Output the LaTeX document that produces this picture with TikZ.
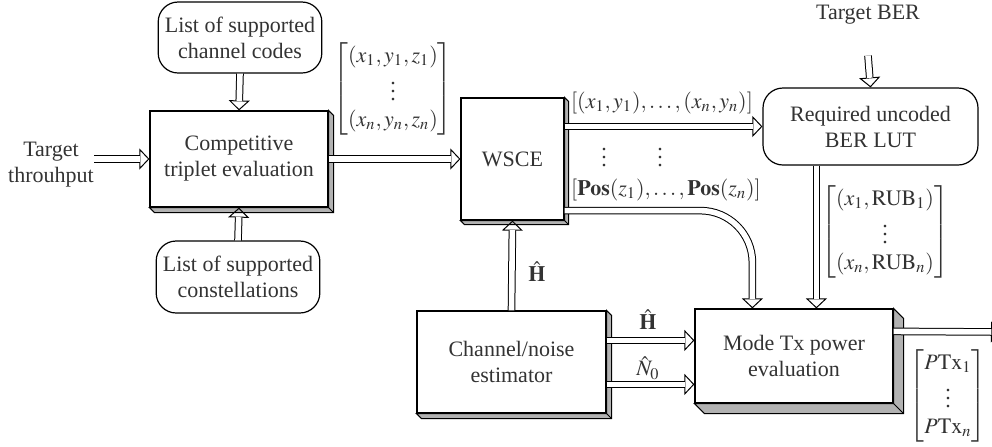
\documentclass[tikz,border=0pt]{standalone}
\usepackage{amsmath}
\usepackage{mathptmx}
\usepackage{fontspec}
\setmainfont{Liberation Serif}
\usepackage{tikz}
\usetikzlibrary{arrows.meta, calc, positioning}
\newcommand{\slab}[2]{%
  \filldraw[fill=gray!60, line width=0.5pt] (#1.north east) -- ++(#2,-#2) -- ($(#1.south east)+(#2,-#2)$) -- ($(#1.south west)+(#2,-#2)$) -- (#1.south west) -- (#1.south east) -- cycle;
  \draw[line width=0.5pt] (#1.south east) -- ++(#2,-#2);
}

\begin{document}
\begin{tikzpicture}[x=0.5pt, y=-0.5pt, font=\fontsize{11}{13}\selectfont, text=black!80,
    rbox/.style={draw, rounded corners=10pt, align=center, line width=0.6pt, fill=white},
    sbox/.style={draw, align=center, line width=0.6pt, fill=white},
    dbl/.style={line width=3.8pt, -{Triangle[open, length=5pt, width=10.5pt, line width=0.5pt]},
      postaction={draw=white, line width=2.8pt, -, shorten >=4.8pt}}]
    \useasboundingbox (0,0) rectangle (992,446);

    % Inputs
    \node[rbox, minimum width=81pt, minimum height=35.5pt] (codes) at (240,37.5) {List of supported\\channel codes};
    \node[rbox, minimum width=79pt, minimum height=36pt] (consts) at (238,277) {List of supported\\constellations};
    \node[align=center, inner sep=0pt] (tgt) at (51,165) {Target\\throuhput};
    \node (ber) at (868,15) {Target BER};

    % Blocks
    \node[sbox, minimum width=89pt, minimum height=48pt] (comp) at (239,159) {Competitive\\triplet evaluation};
    \node[sbox, minimum width=51.5pt, minimum height=61pt] (wsce) at (512.5,159) {WSCE};
    \node[rbox, minimum width=107.5pt, minimum height=38.5pt] (lut) at (870.5,126.5) {Required uncoded\\BER LUT};
    \node[sbox, minimum width=94.5pt, minimum height=51pt] (est) at (511.5,362) {Channel/noise\\estimator};
    \node[sbox, minimum width=99pt, minimum height=47pt] (mode) at (794,356) {Mode Tx power\\evaluation};
    \slab{comp}{2.5pt}
    \slab{wsce}{2pt}
    \slab{est}{2.5pt}
    \slab{mode}{5pt}

    % Data labels
    \node (trip) at (393,89) {$\begin{bmatrix}(x_1, y_1, z_1)\\ \vdots\\ (x_n, y_n, z_n)\end{bmatrix}$};
    \node (rub) at (885,232) {$\begin{bmatrix}(x_1, \mathrm{RUB}_1)\\ \vdots\\ (x_n, \mathrm{RUB}_n)\end{bmatrix}$};
    \node (ptx) at (948,396) {$\begin{bmatrix}P\mathrm{Tx}_1\\ \vdots\\ P\mathrm{Tx}_n\end{bmatrix}$};
    \node (xy) at (662,103) {$[(x_1, y_1), \ldots, (x_n, y_n)]$};
    \node (pos) at (666,190) {$[\mathbf{Pos}(z_1), \ldots, \mathbf{Pos}(z_n)]$};
    \node (dotsa) at (604,152) {$\vdots$};
    \node (dotsb) at (660,152) {$\vdots$};
    \node (hup) at (537,272) {$\hat{\mathbf{H}}$};
    \node (hright) at (648,320) {$\hat{\mathbf{H}}$};
    \node (noise) at (648,368) {$\hat{N}_0$};

    % Arrows
    \coordinate (lutout) at ($(lut.south west)+(27pt,0)$);
    \coordinate (hsrc) at ($(est.north east)+(0,-15pt)$);
    \coordinate (nsrc) at ($(est.north east)+(0,-37pt)$);
    \coordinate (out) at (1001,332);
    \draw[dbl] (codes.south) -- (comp.north);
    \draw[dbl] (consts.north) -- (comp.south);
    \draw[dbl] (tgt.east |- comp.west) -- (comp.west);
    \draw[dbl] (comp.east) -- (wsce.west);
    \draw[dbl] (wsce.east |- lut.west) -- (lut.west);
    \draw[dbl, rounded corners=26pt] ($(wsce.south east)+(0,5pt)$) -| ($(mode.north west)+(29pt,0)$);
    \draw[dbl] ([yshift=-12pt]ber.south) -- (lut.north);
    \draw[dbl] (lutout) -- (lutout |- mode.north);
    \draw[dbl] (est.north) -- (wsce.south);
    \draw[dbl] (hsrc) -- (hsrc -| mode.west);
    \draw[dbl] (nsrc) -- (nsrc -| mode.west);
    \draw[dbl] ($(mode.north east)+(0,-11.5pt)$) -- (out);
\end{tikzpicture}
\end{document}
